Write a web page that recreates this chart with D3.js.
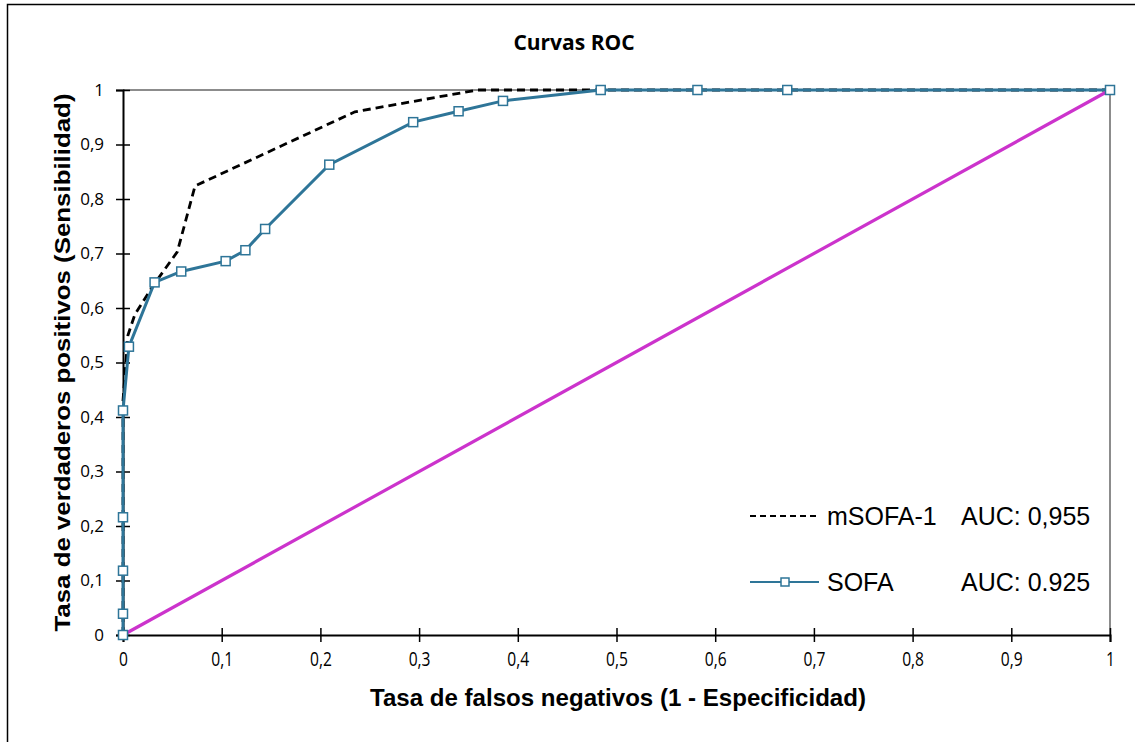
<!DOCTYPE html>
<html>
<head>
<meta charset="utf-8">
<script src="https://cdn.jsdelivr.net/npm/d3@7"></script>
<style>
    body { margin: 0; background: #fff; }
    svg { display: block; }
    .tick text { font-family: "Open Sans", sans-serif; fill: #000; }
</style>
</head>
<body>
<div class="chart"></div>
<script>
// SOFA (with markers) - 1-especificidad / sensibilidad
var sofaX = [0, 0, 0, 0, 0, 0.006, 0.032, 0.059, 0.104, 0.124, 0.144, 0.209, 0.294, 0.340, 0.385, 0.484, 0.582, 0.673, 1];
var sofaY = [0, 0.039, 0.118, 0.216, 0.412, 0.529, 0.647, 0.667, 0.686, 0.706, 0.745, 0.863, 0.941, 0.961, 0.980, 1, 1, 1, 1];

// mSOFA-1 (dashed, no markers)
var msofaX = [0, 0, 0.005, 0.012, 0.032, 0.055, 0.073, 0.235, 0.359, 1];
var msofaY = [0, 0.43, 0.55, 0.588, 0.645, 0.703, 0.824, 0.96, 1, 1];

// reference diagonal
var diagX = [0, 1];
var diagY = [0, 1];

var ticks = [0, 0.1, 0.2, 0.3, 0.4, 0.5, 0.6, 0.7, 0.8, 0.9, 1];

var legendLabels = ["mSOFA-1", "SOFA"];
var legendAuc = ["AUC: 0,955", "AUC: 0.925"];

var dim = { width: 1135, height: 742, left: 123, right: 1110, top: 90, bottom: 635 };

var es = d3.formatLocale({ decimal: ",", thousands: ".", grouping: [3], currency: ["", "€"] });
var fmt = es.format("~g");

var x = d3.scaleLinear().domain([0, 1]).range([dim.left, dim.right]);
var y = d3.scaleLinear().domain([0, 1]).range([dim.bottom, dim.top]);

var svg = d3.select(".chart").append("svg")
    .attr("width", dim.width)
    .attr("height", dim.height);

// outer frame (runs off the right and bottom edges)
svg.append("rect")
    .attr("x", 7.5).attr("y", 4.5)
    .attr("width", 1200).attr("height", 800)
    .attr("fill", "none")
    .attr("stroke", "#000")
    .attr("stroke-width", 1.5);

svg.append("text")
    .attr("x", 574).attr("y", 50)
    .attr("text-anchor", "middle")
    .style("font-family", "'Open Sans', sans-serif")
    .style("font-weight", "bold")
    .style("font-size", "21px")
    .text("Curvas ROC");

// plot border top / right (grey)
svg.append("path")
    .attr("d", "M" + x(0) + "," + y(1) + "H" + x(1) + "V" + y(0))
    .attr("fill", "none")
    .attr("stroke", "#8c8c8c")
    .attr("stroke-width", 2);

var xAxis = d3.axisBottom(x).tickValues(ticks).tickFormat(fmt).tickSize(7).tickPadding(10);
var yAxis = d3.axisLeft(y).tickValues(ticks).tickFormat(fmt).tickSize(7).tickPadding(12);

var gx = svg.append("g")
    .attr("transform", "translate(0," + dim.bottom + ")")
    .call(xAxis);
gx.selectAll(".tick line").attr("y1", -7);
gx.selectAll(".tick text")
    .style("font-size", "20px")
    .attr("transform", "scale(0.78,1)");

var gy = svg.append("g")
    .attr("transform", "translate(" + dim.left + ",0)")
    .call(yAxis);
gy.selectAll(".tick line").attr("x1", 7);
gy.selectAll(".tick text").style("font-size", "17px");

[gx, gy].forEach(function(g) {
    g.select(".domain").attr("stroke", "#000").attr("stroke-width", 2);
    g.selectAll(".tick line").attr("stroke", "#000").attr("stroke-width", 1.5);
});

svg.append("text")
    .attr("x", 618).attr("y", 706)
    .attr("text-anchor", "middle")
    .attr("textLength", 496)
    .attr("lengthAdjust", "spacingAndGlyphs")
    .style("font-family", "'Liberation Sans', Arial, sans-serif")
    .style("font-weight", "bold")
    .style("font-size", "24px")
    .text("Tasa de falsos negativos (1 - Especificidad)");

svg.append("text")
    .attr("transform", "translate(70," + (y(0.5) + 0) + ") rotate(-90)")
    .attr("text-anchor", "middle")
    .attr("textLength", 538)
    .attr("lengthAdjust", "spacingAndGlyphs")
    .style("font-family", "'Liberation Sans', Arial, sans-serif")
    .style("font-weight", "bold")
    .style("font-size", "22px")
    .text("Tasa de verdaderos positivos (Sensibilidad)");

var line = d3.line()
    .x(function(d) { return x(d[0]); })
    .y(function(d) { return y(d[1]); });

var diag = d3.zip(diagX, diagY);
var msofa = d3.zip(msofaX, msofaY);
var sofa = d3.zip(sofaX, sofaY);

var sofaColor = "#2e7598";

svg.append("path")
    .datum(msofa)
    .attr("d", line)
    .attr("fill", "none")
    .attr("stroke", "#000")
    .attr("stroke-width", 2.8)
    .attr("stroke-dasharray", "8,5");

svg.append("path")
    .datum(sofa)
    .attr("d", line)
    .attr("fill", "none")
    .attr("stroke", sofaColor)
    .attr("stroke-width", 3);

svg.append("path")
    .datum(diag)
    .attr("d", line)
    .attr("fill", "none")
    .attr("stroke", "#cc33cc")
    .attr("stroke-width", 3.2);

svg.append("g").selectAll("rect")
    .data(sofa)
    .enter().append("rect")
    .attr("x", function(d) { return x(d[0]) - 4.5; })
    .attr("y", function(d) { return y(d[1]) - 4.5; })
    .attr("width", 9).attr("height", 9)
    .attr("fill", "#fff")
    .attr("stroke", sofaColor)
    .attr("stroke-width", 1.5);

// legend
var legend = svg.append("g");
var rowY = [516, 582];

legend.append("line")
    .attr("x1", 750).attr("x2", 819)
    .attr("y1", rowY[0]).attr("y2", rowY[0])
    .attr("stroke", "#000").attr("stroke-width", 2)
    .attr("stroke-dasharray", "6,4");

legend.append("line")
    .attr("x1", 750).attr("x2", 819)
    .attr("y1", rowY[1]).attr("y2", rowY[1])
    .attr("stroke", sofaColor).attr("stroke-width", 2);

legend.append("rect")
    .attr("x", 781).attr("y", rowY[1] - 4)
    .attr("width", 8).attr("height", 8)
    .attr("fill", "#fff").attr("stroke", sofaColor).attr("stroke-width", 1.5);

legend.selectAll("text.name")
    .data(legendLabels)
    .enter().append("text")
    .attr("class", "name")
    .attr("x", 827)
    .attr("y", function(d, i) { return rowY[i] + 9; })
    .style("font-family", "'Liberation Sans', Arial, sans-serif")
    .style("font-size", "25px")
    .text(function(d) { return d; });

legend.selectAll("text.auc")
    .data(legendAuc)
    .enter().append("text")
    .attr("class", "auc")
    .attr("x", 961)
    .attr("y", function(d, i) { return rowY[i] + 9; })
    .style("font-family", "'Liberation Sans', Arial, sans-serif")
    .style("font-size", "25px")
    .text(function(d) { return d; });
</script>
</body>
</html>
